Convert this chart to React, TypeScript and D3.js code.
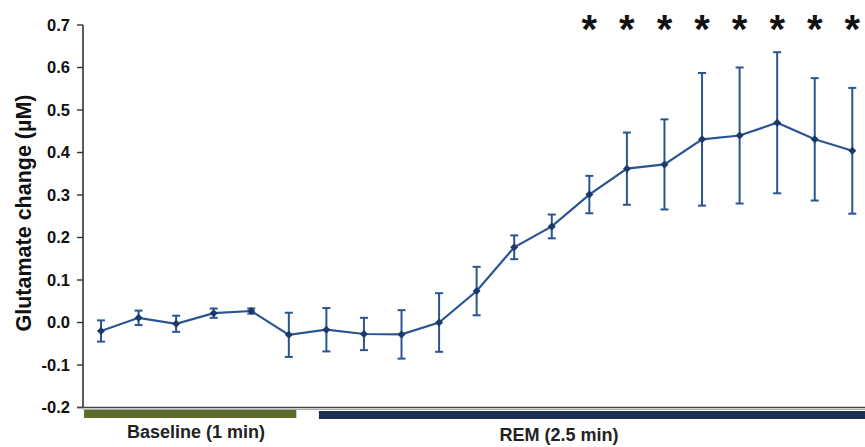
import React from "react";
import * as d3 from "d3";

const timePoints = d3.range(1, 22);
const meanValues = [-0.02, 0.011, -0.003, 0.022, 0.027, -0.029, -0.017, -0.027, -0.028, 0.0, 0.074, 0.177, 0.226, 0.301, 0.362, 0.372, 0.431, 0.44, 0.47, 0.431, 0.404];
const errValues = [0.025, 0.017, 0.019, 0.011, 0.006, 0.052, 0.051, 0.038, 0.057, 0.069, 0.057, 0.028, 0.028, 0.044, 0.085, 0.106, 0.156, 0.16, 0.166, 0.144, 0.148];
const significant = [false, false, false, false, false, false, false, false, false, false, false, false, false, true, true, true, true, true, true, true, true];
const yTicks = [-0.2, -0.1, 0.0, 0.1, 0.2, 0.3, 0.4, 0.5, 0.6, 0.7];
const periods = [
  { label: "Baseline (1 min)", start: 0.55, end: 6.2, color: "#5a6b2b" },
  { label: "REM (2.5 min)", start: 6.8, end: 22.4, color: "#1b3054" },
];

const W = 865;
const H = 447;
const axisX = 83;
const axisY = 407.5;

export default function App() {
  const x = d3.scaleLinear().domain([1, 21]).range([101, 852.3]);
  const y = d3.scaleLinear().domain([-0.2, 0.7]).range([407.5, 25]);
  const line = d3
    .line<number>()
    .x((_, i) => x(timePoints[i]))
    .y((d) => y(d));
  const lineColor = "#2a5592";
  const font = "Arial, 'Liberation Sans', sans-serif";

  return (
    <svg width={W} height={H} style={{ position: "absolute", left: 0, top: 0 }} fontFamily={font}>
      <rect width={W} height={H} fill="#fff" />
      {/* Y axis */}
      <line x1={axisX} x2={axisX} y1={y(0.7)} y2={axisY} stroke="#333" strokeWidth={1.6} />
      {yTicks.map((t) => (
        <g key={t}>
          <line x1={axisX - 6} x2={axisX} y1={y(t)} y2={y(t)} stroke="#333" strokeWidth={1.4} />
          <text
            x={axisX - 13}
            y={y(t)}
            dy="0.35em"
            textAnchor="end"
            fontSize={16.5}
            fontWeight="bold"
            fill="#111"
          >
            {t.toFixed(1)}
          </text>
        </g>
      ))}
      {/* X axis */}
      <line x1={axisX - 6} x2={W} y1={axisY} y2={axisY} stroke="#444" strokeWidth={1.6} />
      <line x1={axisX} x2={W} y1={axisY + 2} y2={axisY + 2} stroke="#aaa" strokeWidth={1} />
      {/* Y label */}
      <text
        transform={`translate(23,213) rotate(-90)`}
        textAnchor="middle"
        dy="0.35em"
        fontSize={21.5}
        fontWeight="bold"
        fill="#111"
      >
        Glutamate change (µM)
      </text>
      {/* Period bars */}
      {periods.map((p, i) => (
        <g key={p.label}>
          <rect
            x={x(p.start)}
            y={i === 0 ? 410 : 411}
            width={x(p.end) - x(p.start)}
            height={8}
            fill={p.color}
          />
          <text
            x={i === 0 ? 196 : 559}
            y={i === 0 ? 438 : 441}
            textAnchor="middle"
            fontSize={18}
            fontWeight="bold"
            fill="#222"
          >
            {p.label}
          </text>
        </g>
      ))}
      {/* Error bars */}
      {meanValues.map((m, i) => {
        const cx = x(timePoints[i]);
        const e = errValues[i];
        return (
          <g key={i} stroke={lineColor} strokeWidth={2}>
            <line x1={cx} x2={cx} y1={y(m + e)} y2={y(m - e)} />
            <line x1={cx - 4} x2={cx + 4} y1={y(m + e)} y2={y(m + e)} />
            <line x1={cx - 4} x2={cx + 4} y1={y(m - e)} y2={y(m - e)} />
          </g>
        );
      })}
      {/* Line */}
      <path d={line(meanValues) || ""} fill="none" stroke={lineColor} strokeWidth={2.2} />
      {/* Markers */}
      {meanValues.map((m, i) => {
        const cx = x(timePoints[i]);
        const cy = y(m);
        const s = 4;
        return (
          <path
            key={i}
            d={`M${cx},${cy - s}L${cx + s},${cy}L${cx},${cy + s}L${cx - s},${cy}Z`}
            fill="#1b3a6a"
          />
        );
      })}
      {/* Significance */}
      {significant.map((s, i) =>
        s ? (
          <text
            key={i}
            x={x(timePoints[i])}
            y={43}
            textAnchor="middle"
            fontSize={40}
            fontWeight="bold"
            fill="#111"
          >
            *
          </text>
        ) : null
      )}
    </svg>
  );
}
